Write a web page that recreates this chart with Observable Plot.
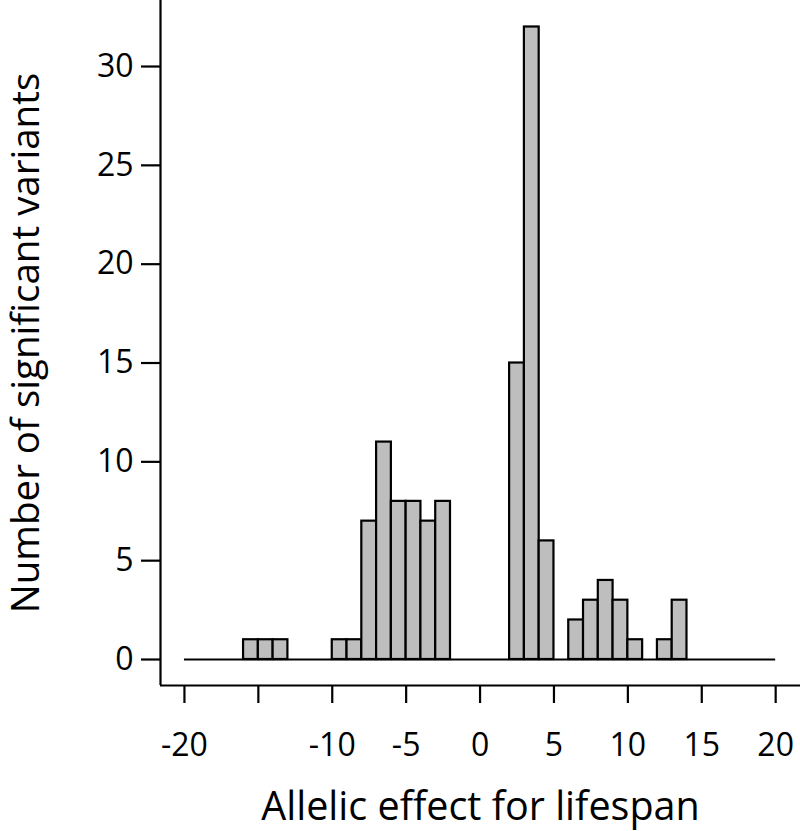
<!DOCTYPE html>
<html>
<head>
<meta charset="utf-8">
<script src="https://cdn.jsdelivr.net/npm/d3@7"></script>
<script src="https://cdn.jsdelivr.net/npm/@observablehq/plot@0.6"></script>
<style>
  html, body { margin: 0; padding: 0; background: #fff; }
  #chart svg { display: block; }
</style>
</head>
<body>
<div id="chart"></div>
<script>
// Bin left edges (width 1) from -20 to 19, and counts
const binStart = d3.range(-20, 20);
const counts = [
  0, 0, 0, 0, 1, 1, 1, 0, 0, 0,   // -20 .. -11
  1, 1, 7, 11, 8, 8, 7, 8, 0, 0,  // -10 .. -1
  0, 0, 15, 32, 6, 0, 2, 3, 4, 3, // 0 .. 9
  1, 0, 1, 3, 0, 0, 0, 0, 0, 0    // 10 .. 19
];
const xTicks = [-20, -15, -10, -5, 0, 5, 10, 15, 20];
const xTickLabels = ["-20", "", "-10", "-5", "0", "5", "10", "15", "20"];
const yTicks = [0, 5, 10, 15, 20, 25, 30];
const xTitle = "Allelic effect for lifespan";
const yTitle = "Number of significant variants";

const bins = binStart.map((s, i) => ({x1: s, x2: s + 1, n: counts[i]}));
const filled = bins.filter(b => b.n > 0);
const xDom = [-21.62, 21.68];
const yDom = [-1.315, 33.34];
const font = "'Open Sans', sans-serif";
const lw = 2.2;

const chart = Plot.plot({
  width: 800,
  height: 831,
  marginLeft: 160,
  marginRight: 0,
  marginTop: 0,
  marginBottom: 146,
  style: {fontFamily: font, background: "#fff", color: "#000"},
  x: {domain: xDom},
  y: {domain: yDom},
  marks: [
    // zero-height bins appear as a line along the baseline
    Plot.ruleY([0], {x1: bins[0].x1, x2: bins[bins.length - 1].x2, stroke: "#000", strokeWidth: lw}),
    Plot.rect(filled, {x1: "x1", x2: "x2", y1: 0, y2: "n", fill: "#bebebe", stroke: "#000", strokeWidth: lw}),
    Plot.ruleX([xDom[0]], {stroke: "#000", strokeWidth: lw}),
    Plot.ruleY([yDom[0]], {stroke: "#000", strokeWidth: lw}),
    Plot.axisX({ticks: xTicks, tickSize: 18, tickPadding: 30, fontSize: 32, strokeWidth: lw, label: null,
      tickFormat: d => xTickLabels[xTicks.indexOf(d)]}),
    Plot.axisY({ticks: yTicks, tickSize: 19, tickPadding: 8, fontSize: 32, strokeWidth: lw, label: null, tickFormat: d => String(d)}),
    Plot.text([xTitle], {frameAnchor: "bottom", dy: 134, fontSize: 39.5, text: d => d, fill: "#000", textAnchor: "middle"}),
    Plot.text([yTitle], {frameAnchor: "left", dx: -134, rotate: -90, fontSize: 38.5, text: d => d, fill: "#000", textAnchor: "middle"})
  ]
});
document.getElementById("chart").appendChild(chart);
</script>
</body>
</html>
